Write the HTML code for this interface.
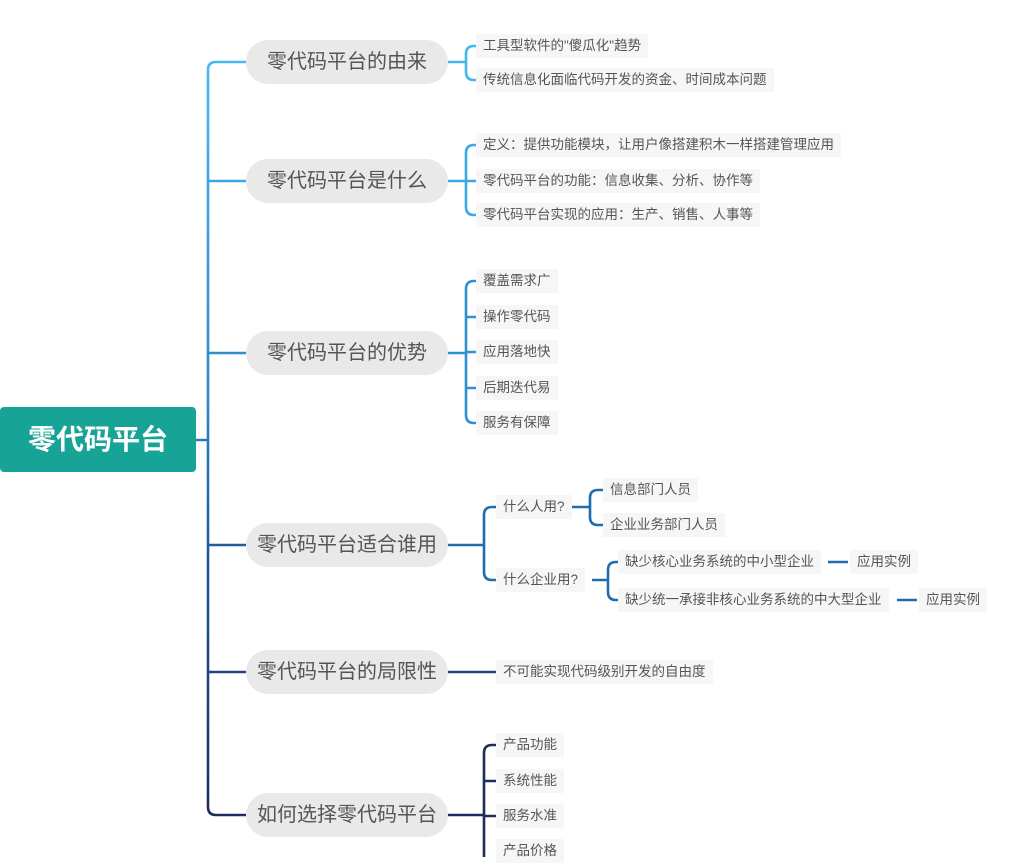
<!DOCTYPE html>
<html><head><meta charset="utf-8"><style>
body{margin:0;width:1012px;height:857px;background:#fff;overflow:hidden;position:relative;font-family:"Liberation Sans","Noto Sans CJK SC",sans-serif}
svg{position:absolute;left:0;top:0}
.root{position:absolute;left:0;top:407px;width:196px;height:65px;background:#17a497;border-radius:4px;color:#fff;font-size:28px;font-weight:bold;line-height:65px;text-align:center}
.m{position:absolute;left:246px;width:202px;height:44px;background:#e9e9e9;border-radius:22px;color:#555;font-size:20px;line-height:44px;text-align:center}
.l{position:absolute;font-size:13.5px;color:#555;background:#f6f6f6;padding:3px 7px;line-height:18px;white-space:nowrap;transform:translateY(-12px)}
</style></head><body>
<svg width="1012" height="857" fill="none" stroke-width="2.6">
<defs><linearGradient id="g" x1="0" y1="62" x2="0" y2="820" gradientUnits="userSpaceOnUse">
<stop offset="0" stop-color="#42bbee"/><stop offset="0.45" stop-color="#2a86c8"/><stop offset="0.65" stop-color="#1f5a9a"/><stop offset="1" stop-color="#1e2c5c"/></linearGradient></defs>
<path stroke="url(#g)" d="M196 440H208M208 440V70Q208 62 216 62H246M208 181H246M208 353H246M208 440V807Q208 815 216 815H246M208 545H246M208 672H246"/>
<g stroke="#41b8ec"><path d="M448 62H466M466 62V54Q466 46 474 46H478M466 62V72Q466 80 474 80H478"/></g>
<g stroke="#37a9e3"><path d="M448 181H466M466 181V153Q466 145 474 145H478M466 181H478M466 181V207Q466 215 474 215H478"/></g>
<g stroke="#2b91d2"><path d="M448 353H466M466 353V289Q466 281 474 281H478M466 317H478M466 352H478M466 388H478M466 353V415Q466 423 474 423H478"/></g>
<g stroke="#1f6cae"><path d="M448 545H484M484 545V515Q484 507 492 507H498M484 545V572Q484 580 492 580H498M572 507H590M590 507V498Q590 490 598 490H604M590 507V517Q590 525 598 525H604M592 580H608M608 580V570Q608 562 616 562H620M608 580V592Q608 600 616 600H620M828 562H848M897 600H917"/></g>
<g stroke="#24407c"><path d="M448 672H496"/></g>
<g stroke="#1e2c5c"><path d="M448 815H484M484 815V753Q484 745 492 745H498M484 781H498M484 816H498M484 815V857"/></g>
</svg>
<div class="root">零代码平台</div>
<div class="m" style="top:40px">零代码平台的由来</div>
<div class="m" style="top:159px">零代码平台是什么</div>
<div class="m" style="top:331px">零代码平台的优势</div>
<div class="m" style="top:523px">零代码平台适合谁用</div>
<div class="m" style="top:650px">零代码平台的局限性</div>
<div class="m" style="top:793px">如何选择零代码平台</div>
<div class="l" style="left:476px;top:46px">工具型软件的"傻瓜化"趋势</div>
<div class="l" style="left:476px;top:80px">传统信息化面临代码开发的资金、时间成本问题</div>
<div class="l" style="left:476px;top:145px">定义：提供功能模块，让用户像搭建积木一样搭建管理应用</div>
<div class="l" style="left:476px;top:181px">零代码平台的功能：信息收集、分析、协作等</div>
<div class="l" style="left:476px;top:215px">零代码平台实现的应用：生产、销售、人事等</div>
<div class="l" style="left:476px;top:281px">覆盖需求广</div>
<div class="l" style="left:476px;top:317px">操作零代码</div>
<div class="l" style="left:476px;top:352px">应用落地快</div>
<div class="l" style="left:476px;top:388px">后期迭代易</div>
<div class="l" style="left:476px;top:423px">服务有保障</div>
<div class="l" style="left:496px;top:507px">什么人用?</div>
<div class="l" style="left:603px;top:490px">信息部门人员</div>
<div class="l" style="left:603px;top:525px">企业业务部门人员</div>
<div class="l" style="left:496px;top:580px">什么企业用?</div>
<div class="l" style="left:618px;top:562px">缺少核心业务系统的中小型企业</div>
<div class="l" style="left:850px;top:562px">应用实例</div>
<div class="l" style="left:618px;top:600px">缺少统一承接非核心业务系统的中大型企业</div>
<div class="l" style="left:919px;top:600px">应用实例</div>
<div class="l" style="left:496px;top:672px">不可能实现代码级别开发的自由度</div>
<div class="l" style="left:496px;top:745px">产品功能</div>
<div class="l" style="left:496px;top:781px">系统性能</div>
<div class="l" style="left:496px;top:816px">服务水准</div>
<div class="l" style="left:496px;top:851px">产品价格</div>
</body></html>
